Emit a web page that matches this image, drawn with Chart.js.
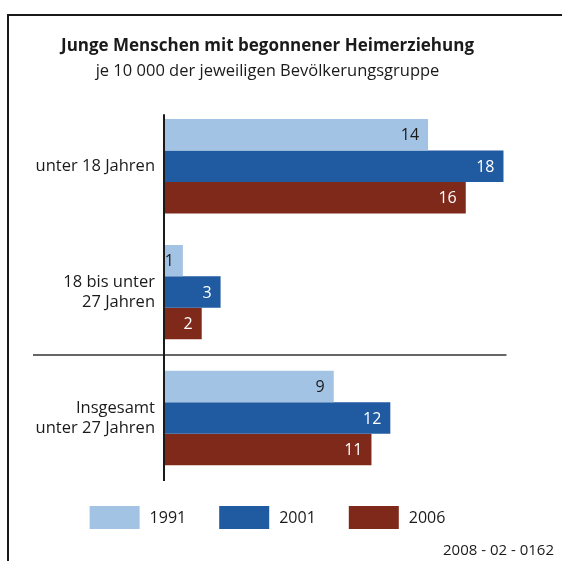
<!DOCTYPE html>
<html>
<head>
<meta charset="utf-8">
<script src="https://cdn.jsdelivr.net/npm/chart.js@4"></script>
<style>
  html, body { margin: 0; padding: 0; background: #fff; }
</style>
</head>
<body>
<canvas id="chart" width="562" height="561"></canvas>
<script>
const categories = [['unter 18 Jahren'], ['18 bis unter', '27 Jahren'], ['Insgesamt', 'unter 27 Jahren']]
const years = ['1991', '2001', '2006']
const values1991 = [14, 1, 9]
const values2001 = [18, 3, 12]
const values2006 = [16, 2, 11]
const titleText = 'Junge Menschen mit begonnener Heimerziehung'
const subtitleText = 'je 10 000 der jeweiligen Bevölkerungsgruppe'
const sourceNote = '2008 - 02 - 0162'

const colors = ['#a3c3e4', '#205ba2', '#7f291b']
const labelColors = ['#1a1a1a', '#ffffff', '#ffffff']
const FONT = '"Open Sans", "Noto Sans", sans-serif'
const INK = '#1a1a1a'

// frame, axis line, separator, value labels, legend and source note
const decorations = {
  id: 'decorations',
  beforeDraw(chart) {
    const ctx = chart.ctx
    ctx.save()
    ctx.strokeStyle = INK
    ctx.lineWidth = 2
    ctx.beginPath()
    ctx.moveTo(8, 561)
    ctx.lineTo(8, 15)
    ctx.lineTo(562, 15)
    ctx.stroke()
    ctx.restore()
  },
  afterDatasetsDraw(chart) {
    const ctx = chart.ctx
    const area = chart.chartArea
    const y = chart.scales.y
    const x = chart.scales.x
    ctx.save()

    // value labels inside bar ends
    ctx.font = '16px ' + FONT
    ctx.textAlign = 'right'
    ctx.textBaseline = 'middle'
    chart.data.datasets.forEach(function(ds, i) {
      chart.getDatasetMeta(i).data.forEach(function(bar, j) {
        ctx.fillStyle = labelColors[i]
        ctx.fillText(String(ds.data[j]), bar.x - 9, bar.y + 1)
      })
    })

    // separator between the age groups and the total
    const sepY = (y.getPixelForValue(1) + y.getPixelForValue(2)) / 2
    ctx.strokeStyle = '#333'
    ctx.lineWidth = 1.5
    ctx.beginPath()
    ctx.moveTo(33, sepY)
    ctx.lineTo(x.getPixelForValue(18) + 3, sepY)
    ctx.stroke()

    // vertical axis line
    ctx.strokeStyle = INK
    ctx.lineWidth = 2
    ctx.beginPath()
    ctx.moveTo(area.left, area.top + 11)
    ctx.lineTo(area.left, area.bottom)
    ctx.stroke()
    ctx.restore()
  },
  afterDraw(chart) {
    const ctx = chart.ctx
    ctx.save()
    ctx.font = '16px ' + FONT
    ctx.textBaseline = 'middle'
    ctx.textAlign = 'left'

    // legend
    const boxW = 50, boxH = 23, gap = 10, spacing = 33
    const widths = chart.data.datasets.map(ds => boxW + gap + ctx.measureText(ds.label).width)
    const total = widths.reduce((a, b) => a + b, 0) + spacing * (widths.length - 1)
    let lx = (chart.chartArea.left - 157 + chart.width - 34) / 2 - total / 2
    chart.data.datasets.forEach(function(ds, i) {
      ctx.fillStyle = ds.backgroundColor
      ctx.fillRect(lx, 506, boxW, boxH)
      ctx.fillStyle = INK
      ctx.fillText(ds.label, lx + boxW + gap, 518)
      lx += widths[i] + spacing
    })

    // source note
    ctx.font = '15px ' + FONT
    ctx.textAlign = 'right'
    ctx.fillText(sourceNote, 554, 551)
    ctx.restore()
  }
}

const ctx = document.getElementById('chart')
new Chart(ctx, {
  type: 'bar',
  data: {
    labels: categories,
    datasets: [
      { label: years[0], data: values1991, backgroundColor: colors[0] },
      { label: years[1], data: values2001, backgroundColor: colors[1] },
      { label: years[2], data: values2006, backgroundColor: colors[2] }
    ]
  },
  options: {
    indexAxis: 'y',
    responsive: false,
    animation: false,
    datasets: {
      bar: { categoryPercentage: 0.75, barPercentage: 1, borderWidth: 0 }
    },
    layout: { padding: { left: 7, right: 34, top: 0, bottom: 80 } },
    scales: {
      x: { display: false, min: 0, max: 19.3 },
      y: {
        grid: { display: false, drawTicks: false },
        border: { display: false },
        ticks: { color: INK, padding: 9, font: { family: FONT, size: 16.5, lineHeight: 1.22 } },
        afterFit: function(scale) { scale.width = 157 }
      }
    },
    plugins: {
      legend: { display: false },
      tooltip: { enabled: false },
      title: {
        display: true,
        text: titleText,
        color: INK,
        font: { family: FONT, size: 17, weight: 'bold', lineHeight: 1.2 },
        padding: { top: 36, bottom: 0 }
      },
      subtitle: {
        display: true,
        text: subtitleText,
        color: INK,
        font: { family: FONT, size: 16.5, lineHeight: 1.2 },
        padding: { top: 5, bottom: 22 }
      }
    }
  },
  plugins: [decorations]
})
</script>
</body>
</html>
